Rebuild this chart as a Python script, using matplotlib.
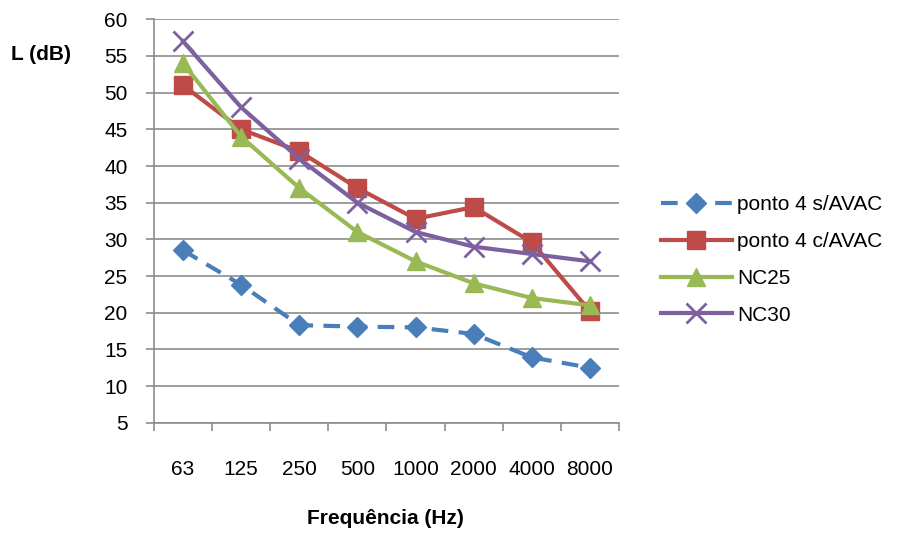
import matplotlib
matplotlib.use("Agg")
import matplotlib.pyplot as plt
from matplotlib import font_manager as fm

names = {f.name for f in fm.fontManager.ttflist}
FONT = "Liberation Sans Narrow" if "Liberation Sans Narrow" in names else "Liberation Sans"
plt.rcParams['font.family'] = [FONT, 'DejaVu Sans']

categories = ["63", "125", "250", "500", "1000", "2000", "4000", "8000"]
s_avac = [28.5, 23.8, 18.3, 18.1, 18.0, 17.1, 13.9, 12.5]
c_avac = [51.0, 45.0, 42.0, 37.0, 32.8, 34.4, 29.6, 20.2]
nc25 = [54, 44, 37, 31, 27, 24, 22, 21]
nc30 = [57, 48, 41, 35, 31, 29, 28, 27]
yticks = list(range(5, 61, 5))

fig = plt.figure(figsize=(9.15, 5.35), dpi=100)
ax = fig.add_axes([0.1683, 0.2099, 0.6765 - 0.1683, 0.9639 - 0.2099])

x = list(range(len(categories)))
grid_c = "#8c8c8c"
FS = 15
ax.plot(x, s_avac, color="#4A7EBB", lw=3, ls=(0, (4, 2.5)), marker="D", ms=10.5,
        label="ponto 4 s/AVAC", zorder=3)
ax.plot(x, c_avac, color="#BE4B48", lw=3, marker="s", ms=13,
        label="ponto 4 c/AVAC", zorder=3)
ax.plot(x, nc25, color="#98B954", lw=3, marker="^", ms=13.5,
        label="NC25", zorder=3)
ax.plot(x, nc30, color="#7D60A0", lw=3, marker="x", ms=14, mew=2,
        label="NC30", zorder=3)

ax.set_ylim(5, 60)
ax.set_xlim(-0.5, len(categories) - 0.5)
ax.set_yticks(yticks)
ax.set_xticks(x)
ax.set_xticklabels(categories)
ax.set_xticks([i - 0.5 for i in range(len(categories) + 1)], minor=True)
ax.tick_params(axis="x", which="major", length=0, pad=27, labelsize=FS)
ax.tick_params(axis="x", which="minor", length=6, color=grid_c, width=1.2)
ax.tick_params(axis="y", length=6, color=grid_c, width=1.2, labelsize=FS, pad=13)
ax.yaxis.grid(True, color=grid_c, lw=1.2)
ax.set_axisbelow(True)
for s in ["top", "right"]:
    ax.spines[s].set_visible(False)
for s in ["left", "bottom"]:
    ax.spines[s].set_color(grid_c)
    ax.spines[s].set_linewidth(1.2)

fig.text(385 / 915, 1 - 518 / 535, "Frequência (Hz)", ha="center", va="center",
         fontsize=FS, fontweight="bold")
fig.text(41 / 915, 1 - 55 / 535, "L (dB)", ha="center", va="center",
         fontsize=FS, fontweight="bold")

leg = ax.legend(loc="center left", bbox_to_anchor=(642 / 915, 1 - 260 / 535),
                bbox_transform=fig.transFigure, frameon=False, fontsize=FS,
                handlelength=3.4, handletextpad=0.25, labelspacing=0.85)

fig.savefig("out.png", dpi=100)
